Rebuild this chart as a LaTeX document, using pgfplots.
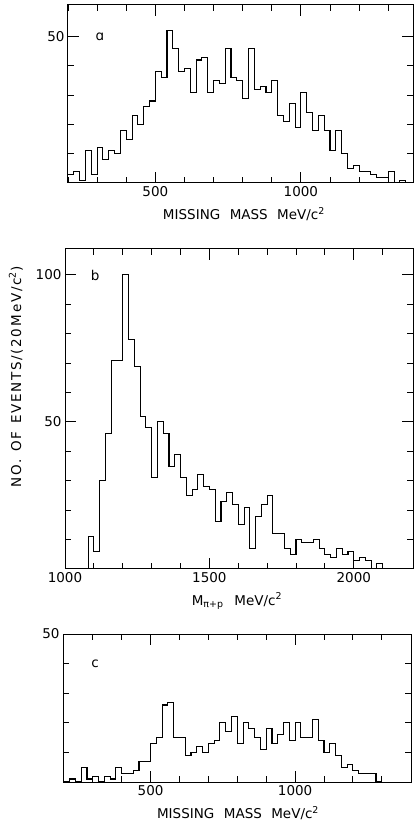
\documentclass[border=0pt]{standalone}
\usepackage{fontspec}
\setmainfont{DejaVu Sans}
\usepackage{pgfplots}
\pgfplotsset{compat=1.18}

\newcommand{\lbl}{\fontsize{13.5}{16}\selectfont}

\pgfplotsset{
  histframe/.style={
    scale only axis,
    anchor=south west,
    axis line style={line width=1pt},
    every tick/.style={black, line width=0.9pt},
    major tick length=11pt,
    minor tick length=6pt,
    tick align=inside,
    ymin=0,
    tick label style={font=\lbl},
    /pgf/number format/assume math mode=true,
    every axis x label/.style={anchor=center, font=\lbl},
    every axis y label/.style={anchor=center, rotate=90, font=\lbl},
  },
  histline/.style={const plot, black, line width=1.1pt, mark=none},
}

% counts per 20 MeV bin, first column = lower bin edge
\pgfplotstableread{
x y
200 3
220 4
240 1
260 11
280 3
300 12
320 8
340 11
360 10
380 18
400 15
420 23
440 20
460 26
480 28
500 38
520 36
540 52
560 46
580 38
600 39
620 31
640 42
660 43
680 31
700 35
720 34
740 46
760 36
780 35
800 29
820 46
840 32
860 33
880 31
900 35
920 23
940 21
960 27
980 19
1000 31
1020 24
1040 18
1060 23
1080 18
1100 11
1120 18
1140 10
1160 5
1180 6
1200 4
1220 4
1240 3
1260 2
1280 2
1300 4
1320 0
1340 1
1360 0
1380 0
}\missinga

\pgfplotstableread{
x y
1060 0
1080 11
1100 6
1120 30
1140 46
1160 71
1180 71
1200 100
1220 78
1240 69
1260 52
1280 48
1300 31
1320 50
1340 46
1360 35
1380 39
1400 31
1420 25
1440 27
1460 32
1480 28
1500 27
1520 16
1540 23
1560 26
1580 22
1600 15
1620 21
1640 7
1660 18
1680 22
1700 25
1720 12
1740 12
1760 7
1780 5
1800 10
1820 9
1840 9
1860 10
1880 7
1900 5
1920 4
1940 7
1960 5
1980 6
2000 3
2020 4
2040 3
2060 0
2080 2
2100 0
2120 0
}\pipmass

\pgfplotstableread{
x y
200 0
220 1
240 0
260 5
280 1
300 2
320 0
340 2
360 1
380 5
400 3
420 3
440 4
460 7
480 7
500 13
520 15
540 26
560 27
580 15
600 15
620 9
640 10
660 12
680 10
700 13
720 14
740 20
760 17
780 22
800 13
820 20
840 18
860 15
880 11
900 18
920 13
940 16
960 20
980 14
1000 20
1020 15
1040 15
1060 21
1080 14
1100 10
1120 13
1140 9
1160 5
1180 6
1200 4
1220 3
1240 3
1260 3
1280 0
1300 0
}\missingc

\begin{document}
\begin{tikzpicture}
\path[use as bounding box] (0,0) rectangle (414pt,823pt);

% panel a
\begin{axis}[histframe, at={(68pt,640pt)}, width=345pt, height=178pt,
  xmin=200, xmax=1385, ymax=60.8,
  xtick={500,1000}, xticklabels={500,1000},
  minor xtick={200,300,...,1300},
  ytick={50}, yticklabels={50},
  minor ytick={10,20,30,40},
  xlabel={MISSING\hspace{0.7em}MASS\hspace{0.7em}MeV/c\textsuperscript{2}},
  x label style={at={(axis description cs:0.51,-0.174)}},
]
\addplot[histline] table {\missinga};
\node[font=\lbl] at (axis cs:310,50) {ɑ};
\end{axis}

% panel b
\begin{axis}[histframe, at={(65pt,254pt)}, width=348pt, height=320pt,
  xmin=1000, xmax=2205, ymax=108.8,
  xtick={1000,1500,2000}, xticklabels={1000,1500,2000},
  minor xtick={1100,1200,...,2100},
  ytick={50,100}, yticklabels={50,100},
  minor ytick={10,20,...,100},
  xlabel={M\textsubscript{π+p}\hspace{0.8em}MeV/c\textsuperscript{2}},
  ylabel={\addfontfeatures{LetterSpace=12}NO.\hspace{0.6em}OF\hspace{0.6em}EVENTS/(20\hspace{0.2em}MeV/c\textsuperscript{2})},
  x label style={at={(axis description cs:0.494,-0.1)}},
  y label style={at={(axis description cs:-0.141,0.6)}},
]
\addplot[histline] table {\pipmass};
\node[font=\lbl] at (axis cs:1104,99.7) {b};
\end{axis}

% panel c
\begin{axis}[histframe, at={(63pt,41pt)}, width=348pt, height=148pt,
  xmin=197, xmax=1401, ymax=50,
  xtick={500,1000}, xticklabels={500,1000},
  minor xtick={200,300,...,1300},
  ytick={50}, yticklabels={50},
  minor ytick={10,20,30,40},
  xlabel={MISSING\hspace{0.7em}MASS\hspace{0.7em}MeV/c\textsuperscript{2}},
  x label style={at={(axis description cs:0.503,-0.21)}},
]
\addplot[histline] table {\missingc};
\node[font=\lbl] at (axis cs:308,40) {c};
\end{axis}
\end{tikzpicture}
\end{document}
